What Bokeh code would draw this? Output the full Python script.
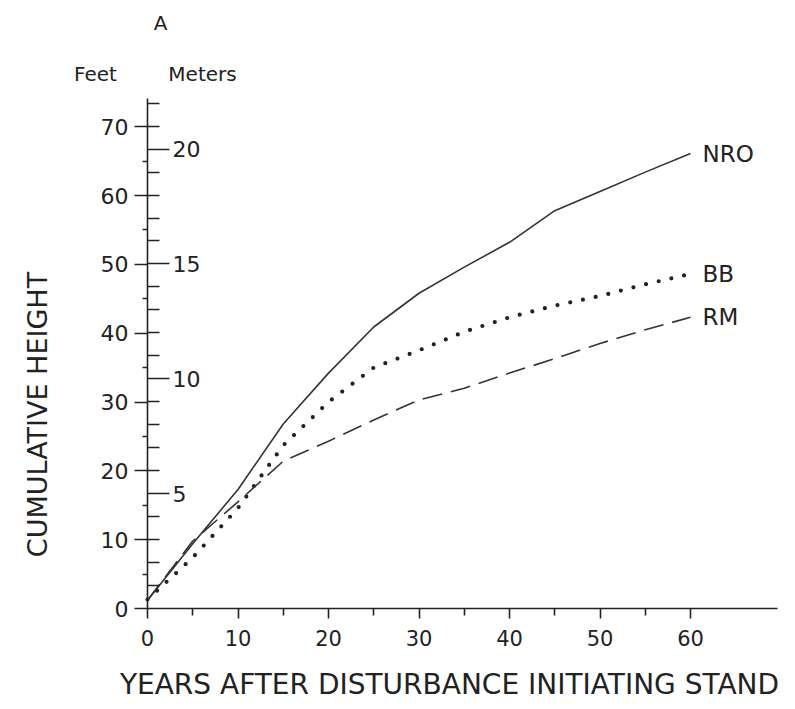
from bokeh.plotting import figure
from bokeh.models import Range1d, LinearAxis, FixedTicker, Label, ColumnDataSource
from bokeh.core.properties import value
from bokeh.embed import file_html
from bokeh.resources import INLINE
import math

# ---- data ----
years = [0, 5, 10, 15, 20, 25, 30, 35, 40, 45, 50, 55, 60]
nro = [1.2, 9.4, 17.3, 26.8, 34.2, 40.9, 45.8, 49.6, 53.2, 57.8, 60.6, 63.4, 66.1]
bb = [1.3, 7.4, 14.6, 23.7, 30.0, 35.0, 37.5, 40.2, 42.3, 44.0, 45.4, 47.1, 48.6]
rm = [1.2, 9.8, 15.5, 21.4, 24.3, 27.4, 30.3, 32.0, 34.2, 36.3, 38.5, 40.5, 42.3]
series_names = ["NRO", "BB", "RM"]

x_ticks = [0, 10, 20, 30, 40, 50, 60]
x_minor = [5, 15, 25, 35, 45, 55]
ft_ticks = [0, 10, 20, 30, 40, 50, 60, 70]
ft_minor = [5, 15, 25, 35, 45, 55, 65]
m_ticks = [5, 10, 15, 20]
m_minor = [1, 2, 3, 4, 6, 7, 8, 9, 11, 12, 13, 14, 16, 17, 18, 19, 21, 22]

FONT = "DejaVu Sans"
INK = "#222222"
W, H = 787, 701

# layout: the frame fills the canvas; axes are drawn at fixed data locations
X0, PXX = 147, 9.05          # px of year 0, px per year
Y0, PXF = 608, 6.883         # px of 0 ft (from top), px per foot
PXM = 22.97                  # px per meter
X_END, FT_END, M_END = 69.6, 74.1, 22.2

p = figure(width=W, height=H, output_backend="svg", toolbar_location=None,
           x_range=Range1d(-X0 / PXX, (W - X0) / PXX),
           y_range=Range1d(-(H - Y0) / PXF, Y0 / PXF),
           x_axis_location=None, y_axis_location=None, min_border=0)
p.extra_y_ranges = {"m": Range1d(-(H - Y0) / PXM, Y0 / PXM)}
p.grid.visible = False
p.outline_line_color = None
p.title.visible = False


def style(ax, tick_out, minor_out, size):
    ax.major_tick_out = tick_out
    ax.major_tick_in = 0
    ax.minor_tick_out = minor_out
    ax.minor_tick_in = 0
    ax.axis_line_width = 1.6
    ax.major_tick_line_width = 1.6
    ax.minor_tick_line_width = 1.6
    ax.axis_line_color = INK
    ax.major_tick_line_color = INK
    ax.minor_tick_line_color = INK
    ax.major_label_text_font = FONT
    ax.major_label_text_font_size = size
    ax.major_label_text_color = INK


xa = LinearAxis(fixed_location=0, bounds=(0, X_END),
                ticker=FixedTicker(ticks=x_ticks, minor_ticks=x_minor))
style(xa, 10, 7, "21px")
xa.major_label_standoff = 11
p.add_layout(xa, "below")

ya = LinearAxis(fixed_location=0, bounds=(0, FT_END),
                ticker=FixedTicker(ticks=ft_ticks, minor_ticks=ft_minor))
style(ya, 13, 5, "22px")
ya.major_label_standoff = 6
p.add_layout(ya, "left")

ma = LinearAxis(y_range_name="m", fixed_location=0, bounds=(0, M_END),
                ticker=FixedTicker(ticks=m_ticks, minor_ticks=m_minor))
style(ma, 22, 12, "22px")
ma.axis_line_color = None
ma.major_label_standoff = 3
p.add_layout(ma, "right")

# curves
p.line(years, nro, line_color="#333333", line_width=1.6)
p.line(years, bb, line_color="#222222", line_width=4.2, line_dash="0 13", line_cap="round")
p.line(years, rm, line_color="#333333", line_width=1.6, line_dash="20 9")

# end labels
src = ColumnDataSource(dict(x=[years[-1]] * 3, y=[nro[-1], bb[-1], rm[-1]], t=series_names))
p.text(x="x", y="y", text="t", source=src, x_offset=12, text_baseline="middle",
       text_align="left", text_font=value(FONT), text_font_size="23px", text_color=INK)


# annotations (screen units, origin at bottom-left of the canvas-filling frame)
def lab(txt, x, y, size, angle=0.0, baseline="middle"):
    p.add_layout(Label(x=x, y=y, x_units="screen", y_units="screen", text=txt,
                       text_align="center", text_baseline=baseline, angle=angle,
                       text_font=FONT, text_font_size=size, text_color=INK))


lab("A", 160, H - 22, "20px")
lab("Feet", 95, H - 73, "20px")
lab("Meters", 202, H - 73, "20px")
lab("CUMULATIVE HEIGHT", 37, H - 414, "27px", angle=math.pi / 2)
lab("YEARS AFTER DISTURBANCE INITIATING STAND", 449, 1, "28px", baseline="bottom")

open("out.html", "w").write(file_html(p, INLINE))
